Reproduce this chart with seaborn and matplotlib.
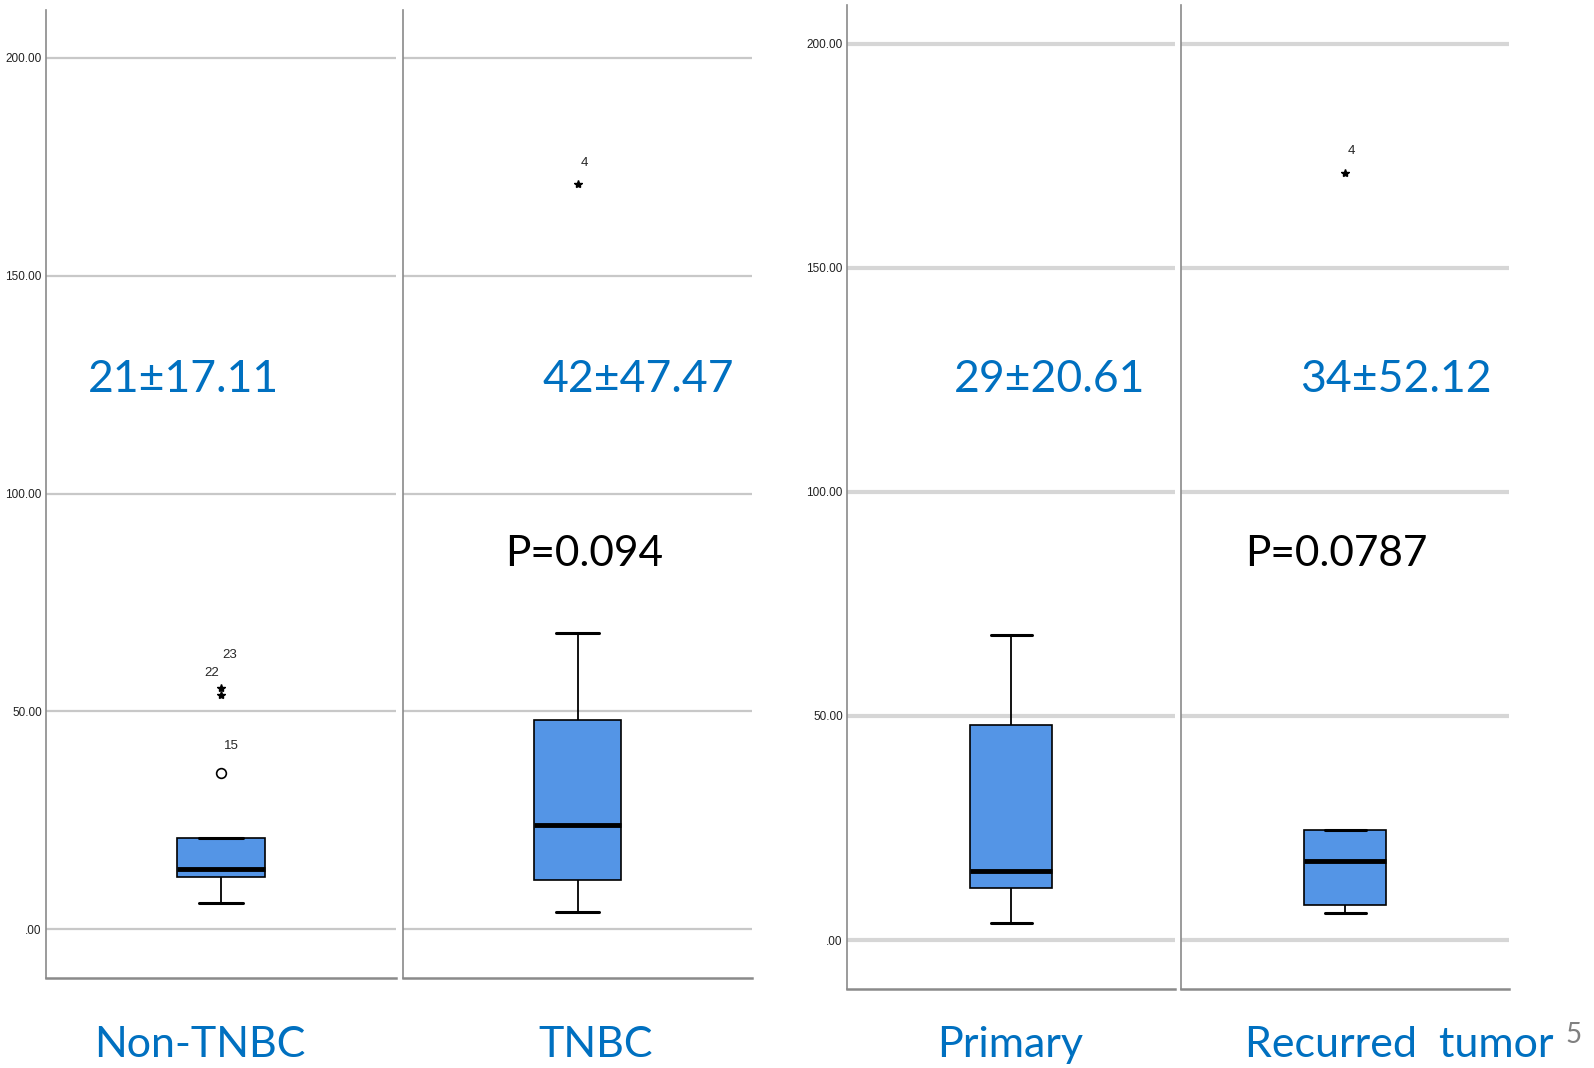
import numpy as np
import pandas as pd
import seaborn as sns
import matplotlib.pyplot as plt

# 数值
groups = ["Non-TNBC", "TNBC", "Primary", "Recurred  tumor"]
non_tnbc = [6.1, 8.0, 10.5, 11.9, 12.5, 13.2, 13.8, 16.0, 19.0, 21.0, 35.9, 53.7, 55.3]
tnbc = [4.0, 8.0, 11.4, 18.0, 24.0, 35.0, 48.1, 68.1, 171.0]
primary = [3.9, 11.6, 15.4, 48.1, 68.0]
recurred = [6.1, 7.9, 17.7, 24.5, 171.2]
case_ids = [["15", "22", "23"], ["4"], [], ["4"]]
mean_sd = ["21±17.11", "42±47.47", "29±20.61", "34±52.12"]
p_values = ["P=0.094", "P=0.0787"]
yticks = [0, 50, 100, 150, 200]
ytick_labels = [".00", "50.00", "100.00", "150.00", "200.00"]

blue_text = "#0070C0"
box_blue = "#5495E6"

sns.set_theme(style="white")
plt.rcParams["font.family"] = ["Lato", "DejaVu Sans"]
narrow = ["Liberation Sans", "DejaVu Sans"]

W, H = 1594, 1068
fig = plt.figure(figsize=(W / 100, H / 100), dpi=100)


def px_axes(x0, x1, ytop, ybot):
    return fig.add_axes([x0 / W, 1 - ybot / H, (x1 - x0) / W, (ybot - ytop) / H])


# 两组面板，左边 SPSS 图、右边 SPSS 图（稍模糊）
axes = [
    px_axes(46, 396, 10, 978),
    px_axes(403, 752, 10, 978),
    px_axes(847, 1175, 5, 989),
    px_axes(1181, 1509, 5, 989),
]
ylims = [(-11.2, 211), (-11.2, 211), (-10.9, 208.6), (-10.9, 208.6)]
grid_style = [("#c8c8c8", 1.6), ("#c8c8c8", 1.6), ("#d6d6d6", 3.0), ("#d6d6d6", 3.0)]
data_list = [non_tnbc, tnbc, primary, recurred]

# 标签相对异常点的偏移（像素）
id_offsets = [[(10, 27), (-9, 22), (9, 33)], [(7, 21)], [], [(6, 22)]]

for i, ax in enumerate(axes):
    vals = np.array(data_list[i])
    sns.boxplot(y=vals, ax=ax, width=0.25, color=box_blue, saturation=1,
                linecolor="black", linewidth=1.2, showfliers=False,
                medianprops={"linewidth": 3.5, "color": "black"},
                whiskerprops={"linewidth": 1.3}, capprops={"linewidth": 2.2})
    ax.set_xlim(-0.5, 0.5)
    ax.set_ylim(*ylims[i])
    ax.set_yticks(yticks)
    ax.set_xticks([])
    ax.set_xlabel("")
    ax.set_ylabel("")
    gc, gw = grid_style[i]
    ax.grid(axis="y", color=gc, linewidth=gw)
    ax.set_axisbelow(True)
    for s in ["top", "right"]:
        ax.spines[s].set_visible(False)
    ax.spines["left"].set_color("#8a8a8a")
    ax.spines["left"].set_linewidth(1.2)
    ax.spines["bottom"].set_color("#8a8a8a")
    ax.spines["bottom"].set_linewidth(1.8)
    ax.tick_params(axis="y", length=0, pad=3)
    if i in (0, 2):
        ax.set_yticklabels(ytick_labels, family=narrow, fontsize=8.5, color="#222222")
    else:
        ax.set_yticklabels([])

    # SPSS 风格异常点：温和 o，极端 *
    q1, q3 = np.percentile(vals, [25, 75])
    iqr = q3 - q1
    out = np.sort(vals[vals > q3 + 1.5 * iqr])
    for j, v in enumerate(out):
        if v > q3 + 3 * iqr:
            ax.plot(0, v, marker="*", color="black", markersize=6, zorder=5)
        else:
            ax.plot(0, v, marker="o", markerfacecolor="none", markeredgecolor="black",
                    markersize=7, markeredgewidth=1.2, zorder=5)
        if j < len(case_ids[i]):
            dx, dy = id_offsets[i][j]
            ax.annotate(case_ids[i][j], (0, v), xytext=(dx * 0.72, dy * 0.72),
                        textcoords="offset points", ha="center", va="center",
                        fontsize=9.5, family=narrow)

# 均值±标准差 和 P 值
ms_pos = [(183, 379), (638, 379), (1050, 379), (1396, 379)]
for (x, y), t in zip(ms_pos, mean_sd):
    fig.text(x / W, 1 - y / H, t, ha="center", va="center", fontsize=32, color=blue_text)
p_pos = [(584, 554), (1336, 554)]
for (x, y), t in zip(p_pos, p_values):
    fig.text(x / W, 1 - y / H, t, ha="center", va="center", fontsize=30.5, color="black")

# 分组名称
lab_pos = [(200, 1045), (596, 1045), (1010, 1045), (1399, 1045)]
for (x, y), t in zip(lab_pos, groups):
    fig.text(x / W, 1 - y / H, t, ha="center", va="center", fontsize=31, color=blue_text)

fig.text(1574 / W, 1 - 1035 / H, "5", ha="center", va="center", fontsize=20, color="#808080")

plt.savefig("out.png", dpi=100)
